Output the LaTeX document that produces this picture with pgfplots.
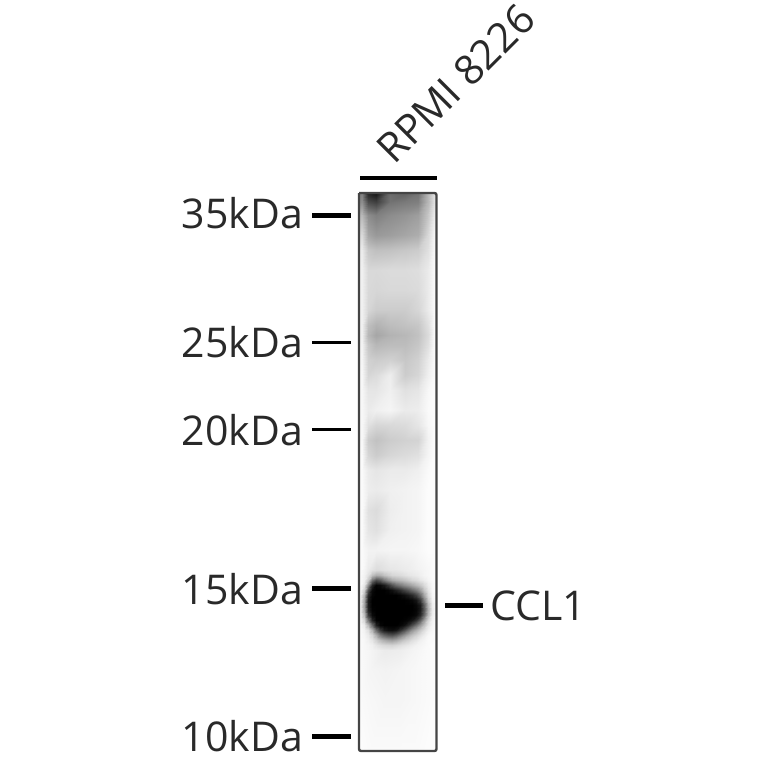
\documentclass[border=0pt]{standalone}
\usepackage{pgfplots}
\pgfplotsset{compat=1.18}
\usepackage{fontspec}
\setmainfont{Open Sans}
\definecolor{ink}{gray}{0.16}
\definecolor{edge}{gray}{0.27}
\newcommand{\lab}{\fontsize{41}{41}\selectfont}
\begin{document}
\begin{tikzpicture}
\useasboundingbox (0,0) rectangle (764pt,764pt);
\begin{axis}[
    at={(0,0)}, anchor=south west,
    hide axis, scale only axis, width=764pt, height=764pt,
    xmin=0, xmax=764, ymin=0, ymax=764, y dir=reverse,
    view={0}{90}, clip=false,
    colormap={blot}{gray(0cm)=(0); gray(1cm)=(1)},
    point meta min=0, point meta max=1,
]
% upper part of the lane: x, y, gray
\addplot3[surf, shader=interp, mesh/cols=10] coordinates {
(360,193,.50)(362,193,.50)(368,193,.15)(376,193,.08)(390,193,.42)(405,193,.38)(418,193,.45)(428,193,.72)(434,193,.88)(436,193,.90)
(360,202,.55)(362,202,.55)(368,202,.30)(376,202,.25)(390,202,.45)(405,202,.48)(418,202,.50)(428,202,.72)(434,202,.88)(436,202,.90)
(360,215,.72)(362,215,.72)(368,215,.55)(376,215,.50)(390,215,.55)(405,215,.58)(418,215,.62)(428,215,.78)(434,215,.92)(436,215,.94)
(360,235,.85)(362,235,.85)(368,235,.65)(376,235,.60)(390,235,.62)(405,235,.65)(418,235,.68)(428,235,.85)(434,235,.96)(436,235,.97)
(360,250,.92)(362,250,.92)(368,250,.78)(376,250,.75)(390,250,.76)(405,250,.78)(418,250,.80)(428,250,.88)(434,250,.97)(436,250,.98)
(360,270,.94)(362,270,.94)(368,270,.85)(376,270,.85)(390,270,.86)(405,270,.86)(418,270,.87)(428,270,.92)(434,270,.98)(436,270,.98)
(360,290,.94)(362,290,.94)(368,290,.85)(376,290,.84)(390,290,.85)(405,290,.85)(418,290,.86)(428,290,.92)(434,290,.98)(436,290,.98)
(360,310,.94)(362,310,.94)(368,310,.84)(376,310,.80)(390,310,.80)(405,310,.80)(418,310,.84)(428,310,.92)(434,310,.98)(436,310,.98)
(360,325,.94)(362,325,.94)(368,325,.75)(376,325,.70)(390,325,.74)(405,325,.76)(418,325,.78)(428,325,.88)(434,325,.98)(436,325,.98)
(360,335,.94)(362,335,.94)(368,335,.72)(376,335,.65)(390,335,.70)(405,335,.72)(418,335,.76)(428,335,.86)(434,335,.98)(436,335,.98)
(360,345,.95)(362,345,.95)(368,345,.78)(376,345,.72)(390,345,.74)(405,345,.74)(418,345,.78)(428,345,.88)(434,345,.98)(436,345,.98)
(360,360,.96)(362,360,.96)(368,360,.82)(376,360,.80)(390,360,.82)(405,360,.78)(418,360,.82)(428,360,.92)(434,360,.98)(436,360,.98)
(360,375,.97)(362,375,.97)(368,375,.84)(376,375,.86)(390,375,.93)(405,375,.80)(418,375,.84)(428,375,.94)(434,375,.98)(436,375,.98)
(360,390,.97)(362,390,.97)(368,390,.90)(376,390,.90)(390,390,.94)(405,390,.88)(418,390,.90)(428,390,.97)(434,390,.99)(436,390,.99)
(360,410,.97)(362,410,.97)(368,410,.92)(376,410,.94)(390,410,.96)(405,410,.92)(418,410,.93)(428,410,.98)(434,410,.99)(436,410,.99)
(360,425,.97)(362,425,.97)(368,425,.88)(376,425,.84)(390,425,.85)(405,425,.86)(418,425,.90)(428,425,.97)(434,425,.99)(436,425,.99)
(360,440,.97)(362,440,.97)(368,440,.80)(376,440,.76)(390,440,.80)(405,440,.82)(418,440,.83)(428,440,.95)(434,440,.99)(436,440,.99)
(360,455,.98)(362,455,.98)(368,455,.84)(376,455,.80)(390,455,.84)(405,455,.86)(418,455,.88)(428,455,.96)(434,455,.99)(436,455,.99)
(360,470,.98)(362,470,.98)(368,470,.92)(376,470,.90)(390,470,.92)(405,470,.92)(418,470,.94)(428,470,.98)(434,470,.99)(436,470,.99)
(360,490,.98)(362,490,.98)(368,490,.93)(376,490,.92)(390,490,.94)(405,490,.95)(418,490,.96)(428,490,.99)(434,490,.99)(436,490,.99)
(360,510,.98)(362,510,.98)(368,510,.88)(376,510,.86)(390,510,.93)(405,510,.95)(418,510,.96)(428,510,.99)(434,510,.99)(436,510,.99)
(360,530,.98)(362,530,.98)(368,530,.90)(376,530,.88)(390,530,.94)(405,530,.95)(418,530,.96)(428,530,.99)(434,530,.99)(436,530,.99)
(360,550,.98)(362,550,.98)(368,550,.95)(376,550,.95)(390,550,.96)(405,550,.96)(418,550,.97)(428,550,.99)(434,550,.99)(436,550,.99)
(360,570,.98)(362,570,.98)(368,570,.92)(376,570,.86)(390,570,.90)(405,570,.92)(418,570,.95)(428,570,.97)(434,570,.99)(436,570,.99)
};
% the CCL1 band
\addplot3[surf, shader=interp, mesh/cols=20] coordinates {
(360,570,.98)(364,570,.96)(368,570,.92)(372,570,.88)(376,570,.86)(380,570,.86)(384,570,.88)(388,570,.89)(392,570,.90)(396,570,.90)(400,570,.91)(404,570,.92)(408,570,.93)(412,570,.93)(416,570,.94)(420,570,.95)(424,570,.96)(428,570,.97)(432,570,.98)(436,570,.99)
(360,575,.98)(364,575,.95)(368,575,.88)(372,575,.75)(376,575,.68)(380,575,.70)(384,575,.76)(388,575,.80)(392,575,.84)(396,575,.85)(400,575,.86)(404,575,.88)(408,575,.90)(412,575,.91)(416,575,.92)(420,575,.94)(424,575,.96)(428,575,.97)(432,575,.98)(436,575,.99)
(360,580,.98)(364,580,.94)(368,580,.78)(372,580,.45)(376,580,.30)(380,580,.36)(384,580,.48)(388,580,.58)(392,580,.66)(396,580,.70)(400,580,.73)(404,580,.76)(408,580,.80)(412,580,.84)(416,580,.86)(420,580,.90)(424,580,.93)(428,580,.96)(432,580,.98)(436,580,.99)
(360,585,.98)(364,585,.90)(368,585,.55)(372,585,.15)(376,585,.02)(380,585,.04)(384,585,.10)(388,585,.20)(392,585,.32)(396,585,.42)(400,585,.48)(404,585,.55)(408,585,.60)(412,585,.66)(416,585,.72)(420,585,.78)(424,585,.86)(428,585,.93)(432,585,.97)(436,585,.99)
(360,590,.97)(364,590,.82)(368,590,.30)(372,590,.04)(376,590,0)(380,590,0)(384,590,0)(388,590,.02)(392,590,.06)(396,590,.12)(400,590,.18)(404,590,.26)(408,590,.33)(412,590,.42)(416,590,.50)(420,590,.62)(424,590,.78)(428,590,.90)(432,590,.97)(436,590,.99)
(360,595,.96)(364,595,.72)(368,595,.16)(372,595,.02)(376,595,0)(380,595,0)(384,595,0)(388,595,0)(392,595,0)(396,595,0)(400,595,.02)(404,595,.05)(408,595,.10)(412,595,.16)(416,595,.26)(420,595,.42)(424,595,.66)(428,595,.86)(432,595,.96)(436,595,.99)
(360,600,.95)(364,600,.66)(368,600,.10)(372,600,0)(376,600,0)(380,600,0)(384,600,0)(388,600,0)(392,600,0)(396,600,0)(400,600,0)(404,600,0)(408,600,.01)(412,600,.03)(416,600,.08)(420,600,.22)(424,600,.52)(428,600,.80)(432,600,.95)(436,600,.99)
(360,605,.95)(364,605,.64)(368,605,.10)(372,605,0)(376,605,0)(380,605,0)(384,605,0)(388,605,0)(392,605,0)(396,605,0)(400,605,0)(404,605,0)(408,605,0)(412,605,0)(416,605,.03)(420,605,.10)(424,605,.38)(428,605,.72)(432,605,.93)(436,605,.99)
(360,610,.95)(364,610,.66)(368,610,.12)(372,610,.01)(376,610,0)(380,610,0)(384,610,0)(388,610,0)(392,610,0)(396,610,0)(400,610,0)(404,610,0)(408,610,0)(412,610,0)(416,610,.02)(420,610,.10)(424,610,.36)(428,610,.70)(432,610,.92)(436,610,.99)
(360,615,.96)(364,615,.74)(368,615,.22)(372,615,.04)(376,615,0)(380,615,0)(384,615,0)(388,615,0)(392,615,0)(396,615,0)(400,615,0)(404,615,0)(408,615,0)(412,615,.01)(416,615,.04)(420,615,.15)(424,615,.42)(428,615,.74)(432,615,.93)(436,615,.99)
(360,620,.97)(364,620,.84)(368,620,.45)(372,620,.14)(376,620,.01)(380,620,0)(384,620,0)(388,620,0)(392,620,0)(396,620,0)(400,620,0)(404,620,.01)(408,620,.03)(412,620,.08)(416,620,.18)(420,620,.36)(424,620,.62)(428,620,.84)(432,620,.95)(436,620,.99)
(360,625,.98)(364,625,.92)(368,625,.72)(372,625,.42)(376,625,.12)(380,625,.02)(384,625,0)(388,625,0)(392,625,0)(396,625,0)(400,625,.02)(404,625,.06)(408,625,.16)(412,625,.30)(416,625,.44)(420,625,.60)(424,625,.76)(428,625,.90)(432,625,.96)(436,625,.99)
(360,630,.98)(364,630,.95)(368,630,.88)(372,630,.70)(376,630,.42)(380,630,.22)(384,630,.10)(388,630,.06)(392,630,.05)(396,630,.08)(400,630,.18)(404,630,.30)(408,630,.44)(412,630,.58)(416,630,.68)(420,630,.78)(424,630,.87)(428,630,.94)(432,630,.97)(436,630,.99)
(360,635,.98)(364,635,.96)(368,635,.92)(372,635,.84)(376,635,.68)(380,635,.50)(384,635,.40)(388,635,.34)(392,635,.32)(396,635,.38)(400,635,.48)(404,635,.58)(408,635,.68)(412,635,.76)(416,635,.82)(420,635,.88)(424,635,.93)(428,635,.97)(432,635,.98)(436,635,.99)
(360,640,.98)(364,640,.97)(368,640,.94)(372,640,.90)(376,640,.82)(380,640,.74)(384,640,.68)(388,640,.64)(392,640,.62)(396,640,.66)(400,640,.72)(404,640,.78)(408,640,.82)(412,640,.87)(416,640,.90)(420,640,.94)(424,640,.96)(428,640,.98)(432,640,.98)(436,640,.99)
(360,645,.98)(364,645,.97)(368,645,.96)(372,645,.94)(376,645,.90)(380,645,.87)(384,645,.85)(388,645,.84)(392,645,.83)(396,645,.85)(400,645,.87)(404,645,.89)(408,645,.91)(412,645,.93)(416,645,.95)(420,645,.96)(424,645,.97)(428,645,.98)(432,645,.99)(436,645,.99)
(360,650,.98)(364,650,.97)(368,650,.96)(372,650,.95)(376,650,.94)(380,650,.93)(384,650,.92)(388,650,.92)(392,650,.92)(396,650,.93)(400,650,.93)(404,650,.94)(408,650,.95)(412,650,.96)(416,650,.96)(420,650,.97)(424,650,.98)(428,650,.98)(432,650,.99)(436,650,.99)
};
% lower part of the lane
\addplot3[surf, shader=interp, mesh/cols=7] coordinates {
(360,650,.98)(370,650,.96)(385,650,.92)(400,650,.93)(415,650,.96)(428,650,.98)(436,650,.99)
(360,670,.98)(370,670,.96)(385,670,.95)(400,670,.96)(415,670,.97)(428,670,.98)(436,670,.99)
(360,700,.98)(370,700,.97)(385,700,.96)(400,700,.96)(415,700,.97)(428,700,.98)(436,700,.99)
(360,751,.99)(370,751,.98)(385,751,.98)(400,751,.98)(415,751,.98)(428,751,.99)(436,751,.99)
};
% lane frame
\addplot3[edge, line width=2.4pt, rounded corners=2pt] coordinates {
(359,193,0)(436.5,193,0)(436.5,751,0)(359,751,0)(359,193,0)};
% bar above the lane
\addplot3[black, line width=4pt] coordinates {(360,178,0)(437,178,0)};
% marker ticks
\addplot3[black, line width=5pt] coordinates {(312,215,0)(351,215,0)};
\addplot3[black, line width=3pt] coordinates {(312,342,0)(351,342,0)};
\addplot3[black, line width=3pt] coordinates {(312,429,0)(351,429,0)};
\addplot3[black, line width=5pt] coordinates {(312,588,0)(351,588,0)};
\addplot3[black, line width=5pt] coordinates {(312,736,0)(351,736,0)};
\addplot3[black, line width=5pt] coordinates {(445,605,0)(483,605,0)};
\node[anchor=east, text=ink, font=\lab, inner sep=0pt] at (axis cs:303,213,0) {35kDa};
\node[anchor=east, text=ink, font=\lab, inner sep=0pt] at (axis cs:303,342,0) {25kDa};
\node[anchor=east, text=ink, font=\lab, inner sep=0pt] at (axis cs:303,430,0) {20kDa};
\node[anchor=east, text=ink, font=\lab, inner sep=0pt] at (axis cs:303,589,0) {15kDa};
\node[anchor=east, text=ink, font=\lab, inner sep=0pt] at (axis cs:303,736,0) {10kDa};
\node[anchor=west, text=ink, font=\lab, inner sep=0pt] at (axis cs:490,606,0) {CCL1};
\node[anchor=base west, text=ink, font=\lab, inner sep=0pt, rotate=45] at (axis cs:394,166,0) {RPMI 8226};
\end{axis}
\end{tikzpicture}
\end{document}
